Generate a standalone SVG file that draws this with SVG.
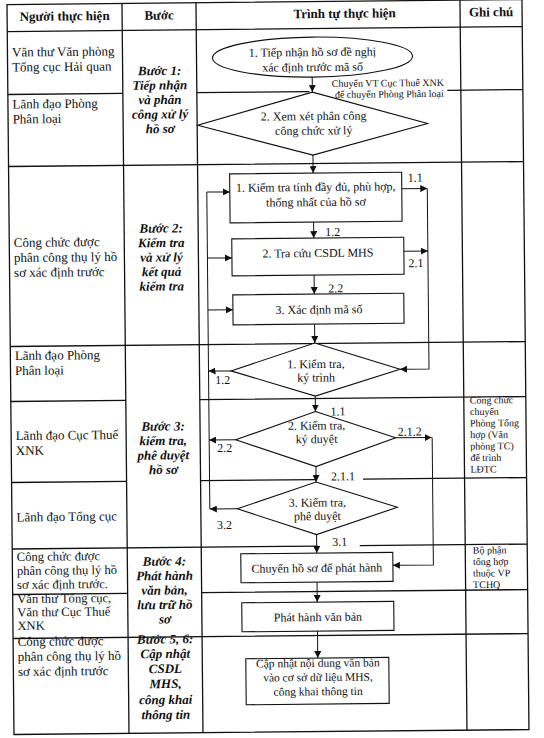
<svg xmlns="http://www.w3.org/2000/svg" width="544" height="738" viewBox="0 0 544 738">
<defs>
<marker id="ah" markerUnits="userSpaceOnUse" markerWidth="8" markerHeight="7" refX="7" refY="3.5" orient="auto"><path d="M0,0 L7,3.5 L0,7 z" fill="#111"/></marker>
</defs>
<style>
.grid{stroke:#111;stroke-width:1.3;fill:none}
.shape{stroke:#111;stroke-width:1.1;fill:#fff}
.conn{stroke:#111;stroke-width:1;fill:none}
.arr{marker-end:url(#ah)}
text{font-family:"Liberation Serif","Times New Roman",serif;fill:#111}
.h{font-size:13px;font-weight:bold;text-anchor:middle}
.lane{font-size:13px}
.tight{font-size:12.6px}
.step{font-size:13px;font-weight:bold;font-style:italic;text-anchor:middle}
.fc{font-size:12px;text-anchor:middle}
.fs{font-size:11.5px;text-anchor:middle}
.lbl{font-size:12px}
.note{font-size:10px}
</style>
<rect width="544" height="738" fill="#fff"/>
<g transform="rotate(-0.55 272 369)">
<g id="table" class="grid">
<rect x="10.5" y="2" width="515" height="730"/>
<path d="M125.5,2V732M199.5,2V732M463.5,2V732"/>
<path d="M10.5,29H525.5M10.5,92H125.5M199.5,92H312M450,92H525.5M10.5,164H525.5M10.5,344H525.5M10.5,399H125.5M199.5,399H525.5M10.5,480H125.5M199.5,480H316M362,480H525.5M10.5,546.5H316M358,546.5H525.5M10.5,592H125.5M199.5,592H525.5M10.5,636H525.5"/>
</g>
<g id="headers">
<text class="h" x="68" y="18.5">Người thực hiện</text>
<text class="h" x="162.5" y="18.5">Bước</text>
<text class="h" x="348" y="18.5">Trình tự thực hiện</text>
<text class="h" x="494.5" y="18.5">Ghi chú</text>
</g>
<g id="lanes" class="lane">
<text x="15" y="54">Văn thư Văn phòng</text>
<text x="15" y="69">Tổng cục Hải quan</text>
<text x="15" y="106">Lãnh đạo Phòng</text>
<text x="15" y="121">Phân loại</text>
<text x="15" y="244.5">Công chức được</text>
<text x="15" y="259.5">phân công thụ lý hồ</text>
<text x="15" y="274.5">sơ xác định trước</text>
<text x="15" y="357.5">Lãnh đạo Phòng</text>
<text x="15" y="372.5">Phân loại</text>
<text x="15" y="437.5">Lãnh đạo Cục Thuế</text>
<text x="15" y="452.5">XNK</text>
<text x="15" y="519">Lãnh đạo Tổng cục</text>
<text class="tight" x="15" y="558.5">Công chức được</text>
<text class="tight" x="15" y="572.5">phân công thụ lý hồ</text>
<text class="tight" x="15" y="586.5">sơ xác định trước.</text>
<text class="tight" x="15" y="600.5">Văn thư Tổng cục,</text>
<text class="tight" x="15" y="614">Văn thư Cục Thuế</text>
<text class="tight" x="15" y="627.5">XNK</text>
<text x="15" y="643.5">Công chức được</text>
<text x="15" y="658.5">phân công thụ lý hồ</text>
<text x="15" y="673.5">sơ xác định trước</text>
</g>
<g id="steps" class="step">
<text x="162.5" y="74">Bước 1:</text>
<text x="162.5" y="88.5">Tiếp nhận</text>
<text x="162.5" y="103">và phân</text>
<text x="162.5" y="117.5">công xử lý</text>
<text x="162.5" y="132">hồ sơ</text>
<text x="162.5" y="231.5">Bước 2:</text>
<text x="162.5" y="246">Kiểm tra</text>
<text x="162.5" y="260.5">và xử lý</text>
<text x="162.5" y="275">kết quả</text>
<text x="162.5" y="289.5">kiểm tra</text>
<text x="162.5" y="429.5">Bước 3:</text>
<text x="162.5" y="444">kiểm tra,</text>
<text x="162.5" y="458.5">phê duyệt</text>
<text x="162.5" y="473">hồ sơ</text>
<text x="162.5" y="564.5">Bước 4:</text>
<text x="162.5" y="579">Phát hành</text>
<text x="162.5" y="593.5">văn bản,</text>
<text x="162.5" y="608">lưu trữ hồ</text>
<text x="162.5" y="622.5">sơ</text>
<text x="162.5" y="642.5">Bước 5, 6:</text>
<text x="162.5" y="657">Cập nhật</text>
<text x="162.5" y="672">CSDL</text>
<text x="162.5" y="687">MHS,</text>
<text x="162.5" y="703">công khai</text>
<text x="162.5" y="718">thông tin</text>
</g>
<g id="notes" class="note">
<text x="469.5" y="405.5">Công chức</text>
<text x="469.5" y="417">chuyển</text>
<text x="469.5" y="428.5">Phòng Tổng</text>
<text x="469.5" y="440">hợp (Văn</text>
<text x="469.5" y="451.5">phòng TC)</text>
<text x="469.5" y="463">để trình</text>
<text x="469.5" y="474.5">LĐTC</text>
<text x="471" y="555.5">Bộ phận</text>
<text x="471" y="567">tổng hợp</text>
<text x="471" y="578.5">thuộc VP</text>
<text x="471" y="590">TCHQ</text>
</g>
<g id="connectors" class="conn">
<path class="arr" d="M315,77.5V92.5"/>
<path class="arr" d="M315,155.5V173.5"/>
<path class="arr" d="M315,222.5V238.5"/>
<path class="arr" d="M315,275.5V294.5"/>
<path class="arr" d="M315,324.5V343.5"/>
<path class="arr" d="M315,396.5V412"/>
<path class="arr" d="M315,467V482.5"/>
<path class="arr" d="M315,535V553.5"/>
<path class="arr" d="M315,582.5V602.5"/>
<path class="arr" d="M315,631.5V658.5"/>
<path class="arr" d="M403.5,190H429"/>
<path class="arr" d="M405,252.5H429"/>
<path class="arr" d="M429,190V370.5H400"/>
<path d="M208.5,191.5V508.5"/>
<path class="arr" d="M208.5,191.5H231.5"/>
<path class="arr" d="M208.5,257.5H233"/>
<path class="arr" d="M208.5,309.5H233.5"/>
<path class="arr" d="M231,370.5H208.5"/>
<path class="arr" d="M235,439.5H208.5"/>
<path class="arr" d="M236,508.5H208.5"/>
<path class="arr" d="M395,439H431"/>
<path class="arr" d="M431.5,439V566.5H391"/>
</g>
<g id="conn-labels" class="lbl">
<text x="409.5" y="183">1.1</text>
<text x="326.5" y="236.5">1.2</text>
<text x="409.5" y="268.5">2.1</text>
<text x="329" y="293">2.2</text>
<text x="215" y="383.5">1.2</text>
<text x="330" y="416">1.1</text>
<text x="397" y="437">2.1.2</text>
<text x="216.5" y="451.5">2.2</text>
<text x="330" y="481">2.1.1</text>
<text x="215.5" y="528.5">3.2</text>
<text x="330.5" y="546.5">3.1</text>
<text class="note" x="334.5" y="87.5">Chuyển VT Cục Thuế XNK</text>
<text class="note" x="337.5" y="98.5">để chuyển Phòng Phân loại</text>
</g>
<g id="n1">
<ellipse class="shape" cx="315.5" cy="57.5" rx="100" ry="20"/>
<text class="fc" x="315.5" y="56.5">1. Tiếp nhận hồ sơ đề nghị</text>
<text class="fc" x="315.5" y="71.5">xác định trước mã số</text>
</g>
<g id="n2">
<polygon class="shape" points="315,92.5 430,125 315,155.5 200,124.5"/>
<text class="fc" x="316" y="120.5">2. Xem xét phân công</text>
<text class="fc" x="316" y="135">công chức xử lý</text>
</g>
<g id="b1">
<rect class="shape" x="231.5" y="173.5" width="172" height="49"/>
<text class="fc" x="317.5" y="191.5">1. Kiểm tra tính đầy đủ, phù hợp,</text>
<text class="fc" x="317.5" y="206.5">thống nhất của hồ sơ</text>
</g>
<g id="b2">
<rect class="shape" x="233" y="238.5" width="172" height="37"/>
<text class="fc" x="319" y="257.5">2. Tra cứu CSDL MHS</text>
</g>
<g id="b3">
<rect class="shape" x="233.5" y="294.5" width="171" height="30"/>
<text class="fc" x="319.5" y="314">3. Xác định mã số</text>
</g>
<g id="d1">
<polygon class="shape" points="315,343.5 400,370.5 315,396.5 231,370.5"/>
<text class="fc" x="316" y="368.5">1. Kiểm tra,</text>
<text class="fc" x="316" y="382">ký trình</text>
</g>
<g id="d2">
<polygon class="shape" points="315,412 395,439 315,467 235,439.5"/>
<text class="fc" x="316" y="430">2. Kiểm tra,</text>
<text class="fc" x="316" y="443.5">ký duyệt</text>
</g>
<g id="d3">
<polygon class="shape" points="315,482.5 396,508.5 315,535 236,508.5"/>
<text class="fc" x="316" y="507">3. Kiểm tra,</text>
<text class="fc" x="316" y="520.5">phê duyệt</text>
</g>
<g id="b4">
<rect class="shape" x="239" y="553.5" width="152" height="29"/>
<text class="fc" x="315" y="572.5">Chuyển hồ sơ để phát hành</text>
</g>
<g id="b5">
<rect class="shape" x="239.5" y="602.5" width="152" height="29"/>
<text class="fc" x="315.5" y="621.5">Phát hành văn bản</text>
</g>
<g id="b6">
<rect class="shape" x="243" y="658.5" width="143" height="46"/>
<text class="fs" x="315" y="667.3">Cập nhật nội dung văn bản</text>
<text class="fs" x="315" y="681.5">vào cơ sở dữ liệu MHS,</text>
<text class="fs" x="315" y="695.7">công khai thông tin</text>
</g>
</g>
</svg>
